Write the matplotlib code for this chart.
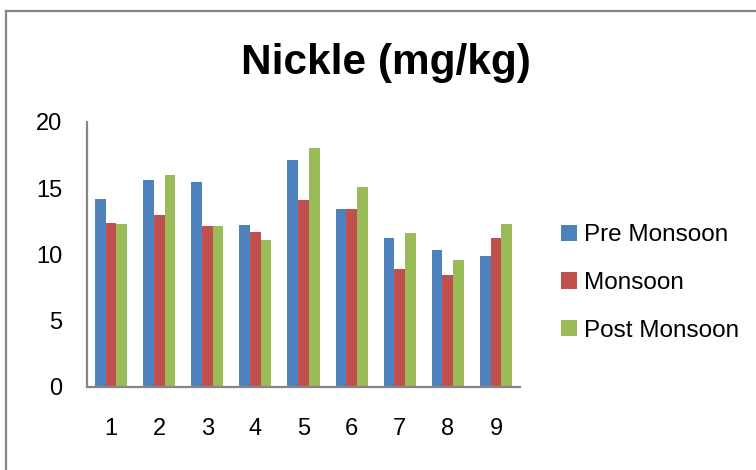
import numpy as np
import matplotlib.pyplot as plt
from matplotlib.lines import Line2D

## data
sites = ["1", "2", "3", "4", "5", "6", "7", "8", "9"]
preMonsoon = [14.2, 15.6, 15.5, 12.2, 17.1, 13.4, 11.2, 10.3, 9.9]
monsoon = [12.4, 13.0, 12.1, 11.7, 14.1, 13.4, 8.9, 8.4, 11.2]
postMonsoon = [12.3, 16.0, 12.1, 11.1, 18.0, 15.1, 11.6, 9.6, 12.3]
seriesNames = ["Pre Monsoon", "Monsoon", "Post Monsoon"]
yTicks = [0, 5, 10, 15, 20]

colors = ["#4F81BD", "#C0504D", "#9BBB59"]
axisGray = "#868686"

plt.rcParams['font.family'] = ['Liberation Sans', 'DejaVu Sans']

fig = plt.figure(figsize=(7.56, 4.70), dpi=100)
ax = fig.add_axes([87/756, 1 - 386.5/470, (520-87)/756, (386.5-122)/470])

x = np.arange(len(sites))
w = 1/4.5
allSeries = [preMonsoon, monsoon, postMonsoon]
for i in range(3):
    ax.bar(x + (i-1)*w, allSeries[i], width=w, color=colors[i],
           label=seriesNames[i], edgecolor='none')

ax.set_xlim(-0.5, len(sites)-0.5)
ax.set_ylim(0, 20)
ax.set_yticks(yTicks)
ax.set_xticks(x)
ax.set_xticklabels(sites)
ax.tick_params(axis='y', length=0, pad=18, labelsize=17)
ax.tick_params(axis='x', length=0, pad=23, labelsize=17)
for s in ['top', 'right']:
    ax.spines[s].set_visible(False)
for s in ['left', 'bottom']:
    ax.spines[s].set_color(axisGray)
    ax.spines[s].set_linewidth(1.6)

fig.text(386/756, 1 - 63/470, "Nickle (mg/kg)", ha='center', va='center',
         fontsize=30.5, fontweight='bold', fontstretch='condensed',
         family=['Liberation Sans Narrow', 'Liberation Sans', 'DejaVu Sans'])

fig.legend(loc='center left', bbox_to_anchor=(561/756, 1 - 283/470),
           frameon=False, fontsize=17.5, handlelength=0.65, handleheight=0.65,
           handletextpad=0.3, labelspacing=1.05, borderpad=0, borderaxespad=0)

## outer chart border (left and top visible only)
fig.add_artist(Line2D([6/756, 6/756], [0, 1 - 11/470], transform=fig.transFigure,
                      color=axisGray, lw=1.6))
fig.add_artist(Line2D([6/756, 1], [1 - 11/470, 1 - 11/470], transform=fig.transFigure,
                      color=axisGray, lw=1.6))

fig.savefig("out.png", dpi=100)
